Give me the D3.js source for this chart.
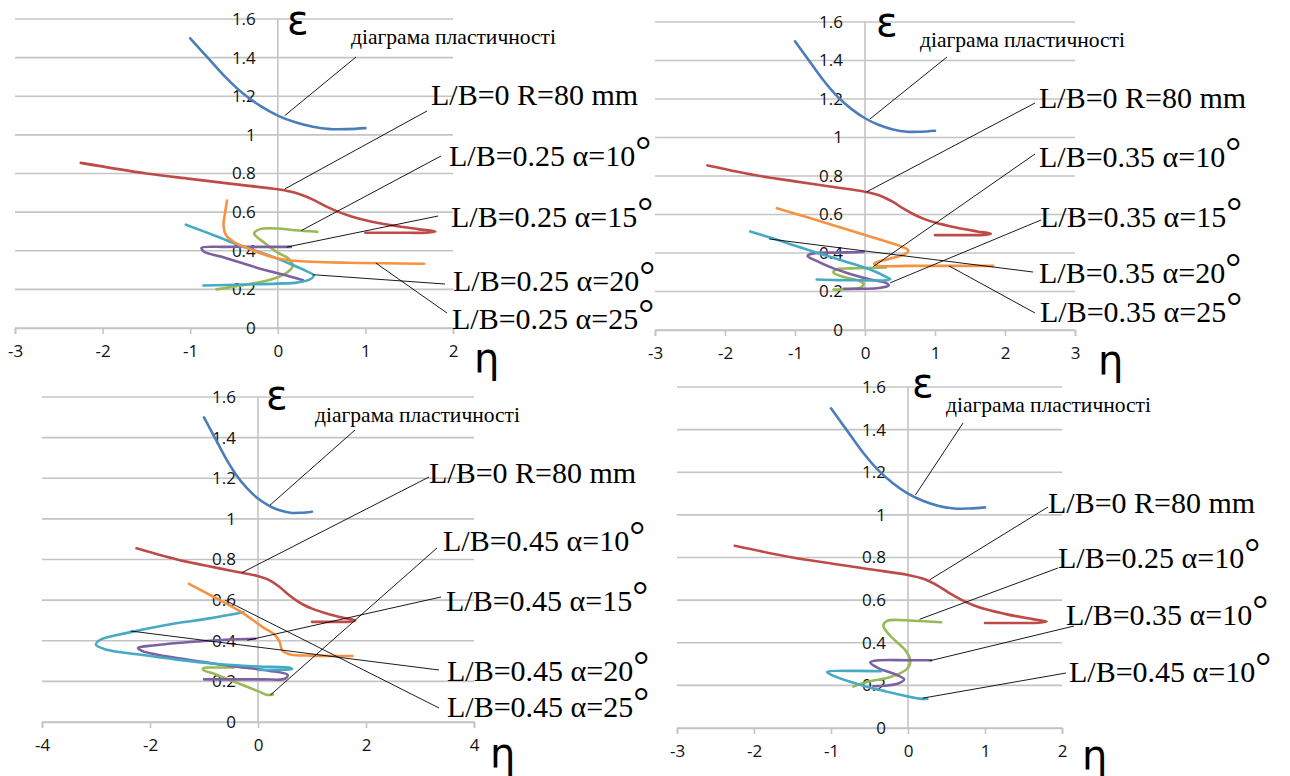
<!DOCTYPE html>
<html>
<head>
<meta charset="utf-8">
<script src="https://cdn.jsdelivr.net/npm/d3@7/dist/d3.min.js"></script>
<style>
    body { margin: 0; background: #fff; }
    svg { display: block; }
</style>
</head>
<body>
<svg id="mainFrame"></svg>
<script>
/**
 * Values, as [eta, epsilon] pairs.
 * The plasticity diagram and the L/B=0 curve are the same in all four charts.
 */
const plasticityDiagram = [[-1.0, 1.5], [-0.8, 1.4], [-0.6, 1.3], [-0.4, 1.215], [-0.2, 1.15], [0, 1.1],
    [0.2, 1.065], [0.4, 1.042], [0.6, 1.03], [0.8, 1.03], [1.0, 1.035]];
const lb0R80 = [[-2.25, 0.855], [-1.5, 0.8], [-1.0, 0.772], [-0.5, 0.745], [0, 0.718], [0.2, 0.7], [0.4, 0.665],
    [0.55, 0.63], [0.7, 0.6], [0.85, 0.576], [1.0, 0.558], [1.3, 0.532], [1.6, 0.512], [1.8, 0.5], [1.7, 0.494],
    [1.4, 0.493], [1.0, 0.493]];

// L/B = 0.25
const lb025a10 = [[-0.7, 0.2], [-0.4, 0.222], [-0.1, 0.248], [0.08, 0.28], [0.17, 0.32], [0.12, 0.36], [0, 0.39],
    [-0.15, 0.44], [-0.27, 0.49], [-0.2, 0.512], [0, 0.515], [0.2, 0.506], [0.45, 0.498]];
const lb025a15 = [[0.15, 0.42], [-0.2, 0.42], [-0.6, 0.42], [-0.87, 0.415], [-0.84, 0.395], [-0.65, 0.37],
    [-0.4, 0.335], [-0.15, 0.3], [0.1, 0.272], [0.29, 0.247]];
const lb025a20 = [[-1.05, 0.535], [-0.7, 0.475], [-0.4, 0.422], [-0.1, 0.376], [0.15, 0.33], [0.32, 0.296],
    [0.41, 0.272], [0.36, 0.25], [0.22, 0.235], [0, 0.23], [-0.4, 0.225], [-0.85, 0.22]];
const lb025a25 = [[-0.58, 0.66], [-0.6, 0.6], [-0.62, 0.53], [-0.59, 0.48], [-0.5, 0.445], [-0.3, 0.405],
    [-0.1, 0.372], [0.1, 0.352], [0.4, 0.343], [0.8, 0.338], [1.2, 0.335], [1.67, 0.333]];

// L/B = 0.35
const lb035a10 = [[0.3, 0.325], [0.1, 0.323], [-0.2, 0.32], [-0.42, 0.314], [-0.45, 0.298], [-0.3, 0.275],
    [-0.08, 0.255], [-0.02, 0.24], [-0.06, 0.222], [-0.2, 0.213], [-0.45, 0.21]];
const lb035a15 = [[-0.02, 0.405], [-0.4, 0.402], [-0.74, 0.398], [-0.82, 0.385], [-0.7, 0.36], [-0.45, 0.32],
    [-0.2, 0.29], [0.05, 0.265], [0.3, 0.245], [0.34, 0.232], [0.2, 0.218], [0, 0.214], [-0.3, 0.214]];
const lb035a20 = [[-1.64, 0.512], [-1.2, 0.462], [-0.93, 0.43], [-0.5, 0.38], [-0.21, 0.348], [0.1, 0.31],
    [0.28, 0.28], [0.36, 0.264], [0.3, 0.258], [0, 0.258], [-0.4, 0.259], [-0.69, 0.262]];
const lb035a25 = [[-1.26, 0.632], [-0.8, 0.583], [-0.3, 0.527], [0.2, 0.471], [0.5, 0.437], [0.62, 0.413],
    [0.57, 0.394], [0.35, 0.37], [0.13, 0.345], [0.18, 0.334], [0.6, 0.333], [1.2, 0.333], [1.83, 0.333]];

// L/B = 0.45
const lb045a10 = [[-0.45, 0.268], [-0.8, 0.268], [-1.0, 0.266], [-1.02, 0.258], [-0.8, 0.236], [-0.4, 0.194],
    [0, 0.152], [0.17, 0.133], [0.28, 0.136]];
const lb045a15 = [[-0.05, 0.41], [-0.6, 0.405], [-1.2, 0.395], [-1.9, 0.378], [-2.22, 0.365], [-2.15, 0.35],
    [-1.7, 0.323], [-1.0, 0.295], [-0.4, 0.272], [0.2, 0.253], [0.55, 0.232], [0.5, 0.213], [0.1, 0.21],
    [-0.5, 0.21], [-1.0, 0.21]];
const lb045a20 = [[-0.27, 0.54], [-0.9, 0.51], [-1.7, 0.478], [-2.4, 0.44], [-2.92, 0.405], [-3.0, 0.38],
    [-2.8, 0.356], [-2.2, 0.332], [-1.5, 0.307], [-0.8, 0.287], [0, 0.273], [0.6, 0.266], [0.63, 0.26],
    [0.3, 0.256], [0, 0.256]];
const lb045a25 = [[-1.28, 0.68], [-0.8, 0.613], [-0.33, 0.545], [0.1, 0.465], [0.3, 0.432], [0.4, 0.395],
    [0.45, 0.352], [0.6, 0.332], [1.0, 0.327], [1.4, 0.325], [1.75, 0.325]];

// alpha = 10 deg, different L/B (fourth chart)
const a10lb025 = [[-0.71, 0.195], [-0.53, 0.216], [-0.23, 0.239], [-0.01, 0.278], [0.03, 0.317], [-0.03, 0.363],
    [-0.23, 0.433], [-0.32, 0.48], [-0.27, 0.503], [0.07, 0.503], [0.43, 0.496]];
const a10lb035 = [[0.3, 0.318], [0, 0.318], [-0.4, 0.317], [-0.49, 0.308], [-0.38, 0.28], [-0.15, 0.25],
    [-0.05, 0.228], [-0.12, 0.21], [-0.3, 0.198], [-0.45, 0.196]];
const a10lb045 = [[-0.35, 0.266], [-0.7, 0.268], [-1.05, 0.263], [-1.0, 0.25], [-0.6, 0.2], [-0.15, 0.16],
    [0.15, 0.138], [0.25, 0.137]];

// Axis ticks and label texts
const epsTicks = [0, 0.2, 0.4, 0.6, 0.8, 1, 1.2, 1.4, 1.6];
const etaTicks3to2 = [-3, -2, -1, 0, 1, 2];
const etaTicks3to3 = [-3, -2, -1, 0, 1, 2, 3];
const etaTicks4to4 = [-4, -2, 0, 2, 4];
const plastLabel = 'діаграма пластичності';
const r80Label = 'L/B=0 R=80 mm';
const labels025 = ['L/B=0.25 α=10°', 'L/B=0.25 α=15°', 'L/B=0.25 α=20°', 'L/B=0.25 α=25°'];
const labels035 = ['L/B=0.35 α=10°', 'L/B=0.35 α=15°', 'L/B=0.35 α=20°', 'L/B=0.35 α=25°'];
const labels045 = ['L/B=0.45 α=10°', 'L/B=0.45 α=15°', 'L/B=0.45 α=20°', 'L/B=0.45 α=25°'];
const labelsA10 = ['L/B=0.25 α=10°', 'L/B=0.35 α=10°', 'L/B=0.45 α=10°'];

// Excel 2007 series colours
const cBlue = '#4a7ebb', cRed = '#be4b48', cGreen = '#98b954', cPurple = '#7d60a0', cAqua = '#46aac5', cOrange = '#f69240';

/**
 * Layout of the four charts. Label boxes are given in pixels, leader anchors in chart values.
 */
const panels = [
    {
        xDomain: [-3, 2], xRange: [15, 453], yRange: [328, 19], xTicks: etaTicks3to2,
        eps: [287, 34], eta: [474, 372],
        series: [[plasticityDiagram, cBlue], [lb0R80, cRed], [lb025a10, cGreen], [lb025a15, cPurple],
            [lb025a20, cAqua], [lb025a25, cOrange]],
        notes: [
            {text: plastLabel, x: 351, y: 44, end: [356, 57], at: [0.08, 1.1], small: true},
            {text: r80Label, x: 431, y: 105, end: [427, 111], at: [0.08, 0.72]},
            {text: labels025[0], x: 449, y: 166, end: [441, 156], at: [0.27, 0.505]},
            {text: labels025[1], x: 451, y: 227, end: [438, 216], at: [0.1, 0.419]},
            {text: labels025[2], x: 453, y: 291, end: [445, 284], at: [0.4, 0.276]},
            {text: labels025[3], x: 452, y: 329, end: [447, 313], at: [1.12, 0.336]}
        ]
    },
    {
        xDomain: [-3, 3], xRange: [655, 1075], yRange: [330, 22], xTicks: etaTicks3to3,
        eps: [876, 36], eta: [1098, 374],
        series: [[plasticityDiagram, cBlue], [lb0R80, cRed], [lb035a10, cGreen], [lb035a15, cPurple],
            [lb035a20, cAqua], [lb035a25, cOrange]],
        notes: [
            {text: plastLabel, x: 920, y: 47, end: [947, 57], at: [0.07, 1.096], small: true},
            {text: r80Label, x: 1039, y: 108, end: [1035, 103], at: [0.02, 0.717]},
            {text: labels035[0], x: 1039, y: 167, end: [1035, 154], at: [0.12, 0.33]},
            {text: labels035[1], x: 1040, y: 227, end: [1041, 220], at: [0.36, 0.245]},
            {text: labels035[2], x: 1039, y: 283, end: [1033, 272], at: [-1.37, 0.473]},
            {text: labels035[3], x: 1040, y: 322, end: [1035, 313], at: [1.2, 0.333]}
        ]
    },
    {
        xDomain: [-4, 4], xRange: [42, 474], yRange: [722, 397], xTicks: etaTicks4to4,
        eps: [266, 409], eta: [490, 767],
        series: [[plasticityDiagram, cBlue], [lb0R80, cRed], [lb045a10, cGreen], [lb045a15, cPurple],
            [lb045a20, cAqua], [lb045a25, cOrange]],
        notes: [
            {text: plastLabel, x: 315, y: 422, end: [355, 430], at: [0.22, 1.067], small: true},
            {text: r80Label, x: 429, y: 483, end: [429, 477], at: [-0.3, 0.735]},
            {text: labels045[0], x: 443, y: 551, end: [437, 548], at: [0.23, 0.133]},
            {text: labels045[1], x: 446, y: 611, end: [441, 597], at: [-0.2, 0.402]},
            {text: labels045[2], x: 447, y: 681, end: [439, 670], at: [-2.36, 0.448]},
            {text: labels045[3], x: 447, y: 717, end: [439, 708], at: [-0.61, 0.6]}
        ]
    },
    {
        xDomain: [-3, 2], xRange: [677, 1062], yRange: [728, 387], xTicks: etaTicks3to2,
        eps: [912, 397], eta: [1082, 769],
        series: [[plasticityDiagram, cBlue], [lb0R80, cRed], [a10lb025, cGreen], [a10lb035, cPurple],
            [a10lb045, cAqua]],
        notes: [
            {text: plastLabel, x: 946, y: 412, end: [963, 423], at: [0.096, 1.093], small: true},
            {text: r80Label, x: 1048, y: 513, end: [1048, 507], at: [0.28, 0.695]},
            {text: labelsA10[0], x: 1058, y: 568, end: [1058, 568], at: [0.15, 0.51]},
            {text: labelsA10[1], x: 1066, y: 625, end: [1074, 626], at: [0.28, 0.315]},
            {text: labelsA10[2], x: 1069, y: 682, end: [1066, 673], at: [0.19, 0.14]}
        ]
    }
];

const svg = d3.select('#mainFrame')
    .attr('width', 1290)
    .attr('height', 776);

svg.append('rect').attr('width', 1290).attr('height', 776).attr('fill', '#fff');

const tickFont = '"Open Sans", "Liberation Sans", sans-serif';
const serifFont = '"Liberation Serif", "Times New Roman", serif';

const drawPanel = p => {
    const g = svg.append('g').attr('class', 'panel');

    const x = d3.scaleLinear().domain(p.xDomain).range(p.xRange);
    const y = d3.scaleLinear().domain([0, 1.6]).range(p.yRange);

    // horizontal gridlines
    g.append('g').selectAll('line').data(epsTicks).join('line')
        .attr('x1', p.xRange[0]).attr('x2', p.xRange[1])
        .attr('y1', d => y(d)).attr('y2', d => y(d))
        .attr('stroke', '#c4c4c4').attr('stroke-width', 1.6);

    // vertical axis line at eta = 0
    g.append('line')
        .attr('x1', x(0)).attr('x2', x(0))
        .attr('y1', y(0)).attr('y2', y(1.6))
        .attr('stroke', '#c4c4c4').attr('stroke-width', 1.6);

    // eta axis with ticks pointing down; plain hyphen minus as in the picture
    const xAxis = g.append('g')
        .attr('transform', `translate(0,${y(0)})`)
        .call(d3.axisBottom(x).tickValues(p.xTicks).tickSize(6).tickPadding(11).tickFormat(d => String(d)));
    xAxis.select('.domain').attr('stroke', '#c4c4c4').attr('stroke-width', 1.6);
    xAxis.selectAll('.tick line').attr('stroke', '#c4c4c4').attr('stroke-width', 1.6);
    xAxis.selectAll('.tick text')
        .attr('font-family', tickFont).attr('font-size', 17).attr('fill', '#111');

    // epsilon tick labels next to the vertical axis
    g.append('g').selectAll('text').data(epsTicks).join('text')
        .attr('x', x(0) - 22)
        .attr('y', d => y(d))
        .attr('dy', '0.35em')
        .attr('text-anchor', 'end')
        .attr('font-family', tickFont).attr('font-size', 17).attr('fill', '#111')
        .text(d => String(d));

    // curves
    const line = d3.line()
        .x(d => x(d[0]))
        .y(d => y(d[1]))
        .curve(d3.curveCatmullRom.alpha(0.5));

    g.append('g').selectAll('path').data(p.series).join('path')
        .attr('d', d => line(d[0]))
        .attr('fill', 'none')
        .attr('stroke', d => d[1])
        .attr('stroke-width', 2.6)
        .attr('stroke-linejoin', 'round')
        .attr('stroke-linecap', 'round');

    // leader lines from curve to label
    g.append('g').selectAll('line').data(p.notes).join('line')
        .attr('x1', d => x(d.at[0])).attr('y1', d => y(d.at[1]))
        .attr('x2', d => d.end[0]).attr('y2', d => d.end[1])
        .attr('stroke', '#000').attr('stroke-width', 0.9);

    // labels; the degree sign is set large as in the picture
    p.notes.forEach(n => {
        const t = g.append('text')
            .attr('x', n.x).attr('y', n.y)
            .attr('font-family', serifFont)
            .attr('fill', '#000');
        if (n.small) {
            t.attr('font-size', 21).attr('textLength', 205).attr('lengthAdjust', 'spacingAndGlyphs').text(n.text);
        } else {
            const parts = n.text.split('°');
            t.attr('font-size', 30);
            t.append('tspan').text(parts[0]);
            if (n.text.includes('°')) {
                t.append('tspan').attr('font-size', 40).attr('dy', -2).text('°');
            }
        }
    });

    // axis symbols
    g.append('text')
        .attr('x', p.eps[0]).attr('y', p.eps[1])
        .attr('font-family', '"DejaVu Sans", sans-serif').attr('font-size', 40)
        .text('ε');
    g.append('text')
        .attr('x', p.eta[0]).attr('y', p.eta[1])
        .attr('font-family', '"DejaVu Sans", sans-serif').attr('font-size', 40)
        .text('η');
};

panels.forEach(drawPanel);
</script>
</body>
</html>
